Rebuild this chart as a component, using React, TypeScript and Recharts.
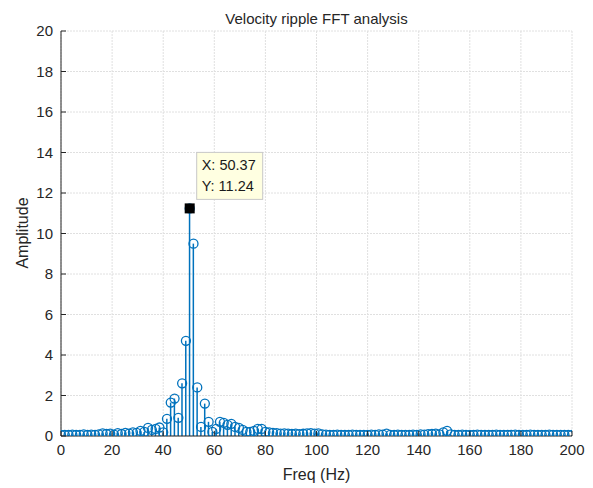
import React from "react"
import {
  ComposedChart,
  Bar,
  Line,
  XAxis,
  YAxis,
  CartesianGrid,
  ReferenceDot,
} from "recharts"

// bin frequencies (Hz)
const freqs = [
  0, 1.48, 2.96, 4.44, 5.93, 7.41, 8.89, 10.37, 11.85, 13.33,
  14.81, 16.3, 17.78, 19.26, 20.74, 22.22, 23.7, 25.19, 26.67, 28.15,
  29.63, 31.11, 32.59, 34.07, 35.56, 37.04, 38.52, 40.0, 41.48, 42.96,
  44.44, 45.93, 47.41, 48.89, 50.37, 51.85, 53.33, 54.81, 56.3, 57.78,
  59.26, 60.74, 62.22, 63.7, 65.19, 66.67, 68.15, 69.63, 71.11, 72.59,
  74.07, 75.56, 77.04, 78.52, 80.0, 81.48, 82.96, 84.44, 85.93, 87.41,
  88.89, 90.37, 91.85, 93.33, 94.81, 96.3, 97.78, 99.26, 100.74, 102.22,
  103.7, 105.19, 106.67, 108.15, 109.63, 111.11, 112.59, 114.07, 115.56, 117.04,
  118.52, 120.0, 121.48, 122.96, 124.44, 125.93, 127.41, 128.89, 130.37, 131.85,
  133.33, 134.81, 136.3, 137.78, 139.26, 140.74, 142.22, 143.7, 145.19, 146.67,
  148.15, 149.63, 151.11, 152.59, 154.07, 155.56, 157.04, 158.52, 160.0, 161.48,
  162.96, 164.44, 165.93, 167.41, 168.89, 170.37, 171.85, 173.33, 174.81, 176.3,
  177.78, 179.26, 180.74, 182.22, 183.7, 185.19, 186.67, 188.15, 189.63, 191.11,
  192.59, 194.07, 195.56, 197.04, 198.52, 200.0,
]

const amplitudes = [
  0.05, 0.06, 0.05, 0.07, 0.05, 0.06, 0.08, 0.05, 0.07, 0.06,
  0.08, 0.13, 0.1, 0.12, 0.07, 0.14, 0.1, 0.15, 0.12, 0.18,
  0.15, 0.25, 0.2, 0.4, 0.3, 0.35, 0.42, 0.18, 0.85, 1.65,
  1.85, 0.9, 2.6, 4.7, 11.24, 9.5, 2.4, 0.45, 1.6, 0.7,
  0.2, 0.35, 0.7, 0.65, 0.55, 0.6, 0.45, 0.4, 0.3, 0.2,
  0.2, 0.25, 0.35, 0.35, 0.2, 0.18, 0.15, 0.14, 0.12, 0.13,
  0.12, 0.1, 0.12, 0.09, 0.11, 0.13, 0.14, 0.12, 0.13, 0.08,
  0.07, 0.06, 0.05, 0.07, 0.05, 0.06, 0.05, 0.07, 0.06, 0.05,
  0.06, 0.05, 0.07, 0.06, 0.08, 0.07, 0.12, 0.06, 0.05, 0.07,
  0.05, 0.06, 0.05, 0.07, 0.06, 0.08, 0.07, 0.09, 0.1, 0.12,
  0.08, 0.18, 0.25, 0.08, 0.06, 0.05, 0.07, 0.05, 0.06, 0.05,
  0.07, 0.06, 0.05, 0.06, 0.05, 0.07, 0.05, 0.06, 0.05, 0.06,
  0.07, 0.05, 0.06, 0.05, 0.07, 0.06, 0.05, 0.06, 0.05, 0.07,
  0.06, 0.05, 0.06, 0.05, 0.06, 0.05,
]

const xTicks = [0, 20, 40, 60, 80, 100, 120, 140, 160, 180, 200]
const yTicks = [0, 2, 4, 6, 8, 10, 12, 14, 16, 18, 20]

const TIP_X = 50.37
const TIP_Y = 11.24

const data = freqs.map((f, i) => ({ freq: f, amp: amplitudes[i] }))

const BLUE = "#0072BD"
const AXIS = "#262626"
const FONT = "'Liberation Sans', Arial, Helvetica, sans-serif"

const LeftTick = (props: any) => {
  const { x, y, payload } = props
  return (
    <g>
      <text x={x} y={y} dy="0.36em" textAnchor="end" fontSize={15} fill={AXIS} fontFamily={FONT}>
        {payload.value}
      </text>
      <line x1={x + 8} x2={x + 13} y1={y} y2={y} stroke={AXIS} />
    </g>
  )
}

const BottomTick = (props: any) => {
  const { x, y, payload } = props
  return (
    <g>
      <text x={x} y={y} dy="0.71em" textAnchor="middle" fontSize={15} fill={AXIS} fontFamily={FONT}>
        {payload.value}
      </text>
      <line x1={x} x2={x} y1={y - 8} y2={y - 13} stroke={AXIS} />
    </g>
  )
}

const TopTick = (props: any) => {
  const { x, y } = props
  return <line x1={x} x2={x} y1={y} y2={y + 5} stroke={AXIS} />
}

const RightTick = (props: any) => {
  const { x, y } = props
  return <line x1={x} x2={x - 5} y1={y} y2={y} stroke={AXIS} />
}

const StemDot = (props: any) => {
  const { cx, cy, index } = props
  if (cx == null || cy == null) return <g key={`d-${index}`} />
  return <circle key={`d-${index}`} cx={cx} cy={cy} r={4.5} fill="none" stroke={BLUE} strokeWidth={1.3} />
}

const DataTip = (props: any) => {
  const { cx, cy } = props
  return (
    <g>
      <rect x={cx - 5} y={cy - 5} width={10} height={10} fill="#000" />
      <rect x={cx + 7} y={cy - 56} width={66} height={47} fill="#ffffe1" stroke="#c8c8c8" />
      <text x={cx + 12} y={cy - 38} fontSize={14.5} fill="#1a1a1a" fontFamily={FONT}>
        {`X: ${TIP_X}`}
      </text>
      <text x={cx + 12} y={cy - 17} fontSize={14.5} fill="#1a1a1a" fontFamily={FONT}>
        {`Y: ${TIP_Y}`}
      </text>
    </g>
  )
}

export default function App() {
  return (
    <div style={{ position: "relative", width: 577, height: 480, fontFamily: FONT, color: AXIS }}>
      <ComposedChart
        width={577}
        height={472}
        data={data}
        margin={{ top: 23, right: 13, bottom: 14, left: 13 }}
      >
        <CartesianGrid stroke="#e0e0e0" strokeDasharray="2 1" horizontalValues={yTicks} verticalValues={xTicks} />
        <XAxis
          dataKey="freq"
          type="number"
          domain={[0, 200]}
          ticks={xTicks}
          height={30}
          tickSize={0}
          tickMargin={8}
          axisLine={{ stroke: AXIS }}
          tick={<BottomTick />}
          allowDataOverflow
        />
        <XAxis
          xAxisId="top"
          orientation="top"
          type="number"
          domain={[0, 200]}
          ticks={xTicks}
          height={0}
          tickSize={0}
          tickMargin={0}
          axisLine={{ stroke: AXIS }}
          tick={<TopTick />}
        />
        <YAxis
          type="number"
          domain={[0, 20]}
          ticks={yTicks}
          width={40}
          tickSize={0}
          tickMargin={8}
          axisLine={{ stroke: AXIS }}
          tick={<LeftTick />}
          allowDataOverflow
        />
        <YAxis
          yAxisId="right"
          orientation="right"
          type="number"
          domain={[0, 20]}
          ticks={yTicks}
          width={0}
          tickSize={0}
          tickMargin={0}
          axisLine={{ stroke: AXIS }}
          tick={<RightTick />}
        />
        <Bar dataKey="amp" barSize={1.5} fill={BLUE} isAnimationActive={false} />
        <Line
          dataKey="amp"
          stroke="none"
          dot={StemDot}
          activeDot={false}
          isAnimationActive={false}
        />
        <ReferenceDot x={TIP_X} y={TIP_Y} shape={DataTip} />
      </ComposedChart>
      <div
        style={{
          position: "absolute",
          zIndex: 2,
          left: 53,
          width: 511,
          top: 2,
          textAlign: "center",
          fontSize: 15,
          lineHeight: "18px",
        }}
      >
        Velocity ripple FFT analysis
      </div>
      <div
        style={{
          position: "absolute",
          zIndex: 2,
          left: 53,
          width: 511,
          top: 457,
          textAlign: "center",
          fontSize: 16,
          lineHeight: "19px",
        }}
      >
        Freq (Hz)
      </div>
      <div
        style={{
          position: "absolute",
          zIndex: 2,
          left: 14,
          top: 225,
          fontSize: 16,
          lineHeight: "19px",
          transform: "translate(-50%, -50%) rotate(-90deg)",
          whiteSpace: "nowrap",
        }}
      >
        Amplitude
      </div>
    </div>
  )
}
